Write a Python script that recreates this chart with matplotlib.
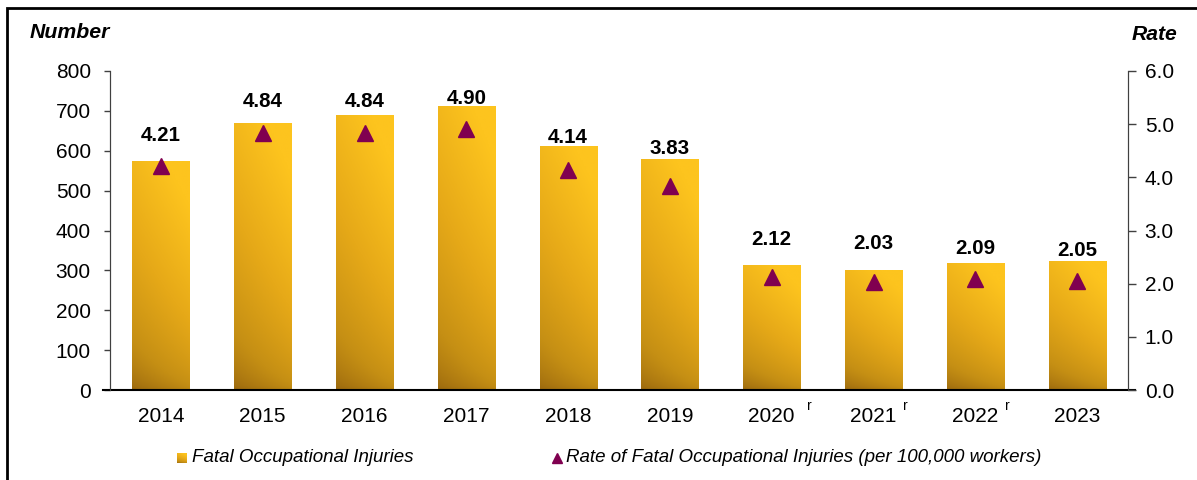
import numpy as np
import matplotlib.pyplot as plt
from matplotlib.colors import LinearSegmentedColormap
from matplotlib.lines import Line2D
from matplotlib.patches import Rectangle

plt.rcParams['font.family'] = ['Liberation Sans', 'DejaVu Sans']

# Data
years = ['2014', '2015', '2016', '2017', '2018', '2019', '2020', '2021', '2022', '2023']
revised = [False, False, False, False, False, False, True, True, True, False]
injuries = [575, 669, 690, 713, 612, 579, 313, 301, 318, 323]
rates = [4.21, 4.84, 4.84, 4.90, 4.14, 3.83, 2.12, 2.03, 2.09, 2.05]

# extra lift (points) for a few data labels
label_lift = [0, 0.7, 0.7, 0, 1, 5.5, 5.5, 6, 0, 0]

maroon = '#800050'
grad = LinearSegmentedColormap.from_list(
    'bar', ['#98660E', '#C58F14', '#E6A918', '#FDC41E'])

fig = plt.figure(figsize=(11.97, 4.8), dpi=100)
ax = fig.add_axes([110/1197, 1 - 390/480, (1128-110)/1197, (390-71)/480])
ax2 = ax.twinx()

x = np.arange(len(years))
bars = ax.bar(x, injuries, width=0.56, color='#E0A317', zorder=1)

# gradient fill for every bar
gy, gx = np.mgrid[0:1:200j, 0:1:40j]
s = np.clip(gy**0.6 * 0.85 + gx * 0.25, 0, 1)
for b in bars:
    x0, y0 = b.get_x(), b.get_y()
    w, h = b.get_width(), b.get_height()
    im = ax.imshow(s, cmap=grad, origin='lower', aspect='auto',
                   extent=[x0, x0 + w, y0, y0 + h], vmin=0, vmax=1, zorder=2)
    im.set_clip_path(b)

ax.set_xlim(-0.5, len(years) - 0.5)
ax.set_ylim(0, 800)
ax.set_yticks(np.arange(0, 801, 100))
ax.set_xticks(x)
ax.set_xticklabels(years)
ax.tick_params(axis='x', length=0, pad=12.5, labelsize=15)
ax.tick_params(axis='y', length=4.3, width=1, pad=9.5, labelsize=15, color='#404040')

ax2.plot(x, rates, linestyle='none', marker='^', ms=11, color=maroon, zorder=3)
ax2.set_ylim(0, 6)
ax2.set_yticks(np.arange(0, 6.01, 1.0))
ax2.set_yticklabels([f'{v:.1f}' for v in np.arange(0, 6.01, 1.0)])
ax2.tick_params(axis='y', length=5.5, width=1, pad=6.5, labelsize=15, color='#404040')

for i, r in enumerate(rates):
    ax2.annotate(f'{r:.2f}', xy=(i, r), xytext=(0, 22 + label_lift[i]),
                 textcoords='offset points', ha='center', va='center',
                 fontsize=14.8, fontweight='bold')

# "r" marks for revised years
for i, rv in enumerate(revised):
    if rv:
        dx = 27 if i == 6 else 23
        ax.annotate('r', xy=(i, 0), xycoords=('data', 'axes fraction'),
                    xytext=(dx, -11.5), textcoords='offset points',
                    ha='center', va='center', fontsize=10)

for a in (ax, ax2):
    a.spines['top'].set_visible(False)
    a.spines['left'].set_color('#404040')
    a.spines['right'].set_color('#404040')
    a.spines['bottom'].set_visible(False)
ax.spines['bottom'].set_visible(True)
ax.spines['bottom'].set_color('black')
ax.spines['bottom'].set_linewidth(1.5)
ax.spines['bottom'].set_bounds(-0.57, len(years) - 0.43)

fig.text(30/1197, 1 - 32/480, 'Number', fontsize=15.3, fontweight='bold',
         style='italic', ha='left', va='center')
fig.text(1177/1197, 1 - 34/480, 'Rate', fontsize=15.2, fontweight='bold',
         style='italic', ha='right', va='center')

# legend drawn by hand
ly = 1 - 458/480
sq = fig.add_axes([177/1197, 1 - 463/480, 10/1197, 10/480])
sq.imshow(s, cmap=grad, origin='lower', aspect='auto', vmin=0, vmax=1)
sq.axis('off')
fig.text(192/1197, ly, 'Fatal Occupational Injuries', fontsize=13.5,
         style='italic', ha='left', va='center')
fig.add_artist(Line2D([557/1197], [ly], transform=fig.transFigure,
                      linestyle='none', marker='^', ms=7.5, color=maroon))
fig.text(566/1197, ly, 'Rate of Fatal Occupational Injuries (per 100,000 workers)',
         fontsize=13.5, style='italic', ha='left', va='center')

fig.add_artist(Rectangle((7/1197, -0.1), 1.1, 1.1 - 8/480, transform=fig.transFigure,
                         fill=False, edgecolor='black', linewidth=2))

fig.savefig('out.png', dpi=100)
